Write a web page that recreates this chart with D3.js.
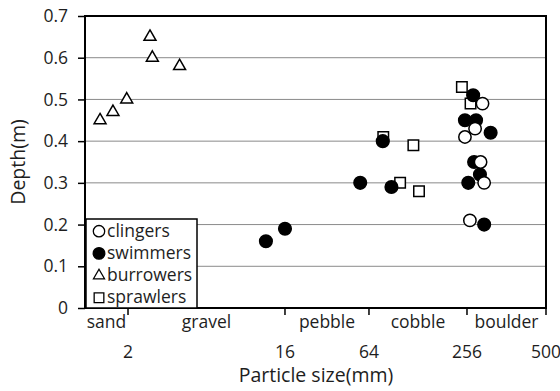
<!DOCTYPE html>
<html>
<head>
<meta charset="utf-8">
<script src="https://cdn.jsdelivr.net/npm/d3@7"></script>
<style>
  html, body { margin: 0; padding: 0; background: #fff; }
  svg { display: block; }
  text { font-family: "Open Sans", "Noto Sans", sans-serif; fill: #1e1e1e; }
</style>
</head>
<body>
<svg id="chart" width="560" height="391"></svg>
<script>
// ---- data ----
const sizeBoundaries = [0, 2, 16, 64, 256, 500];          // mm
const sizeTickLabels = ["2", "16", "64", "256", "500"];
const sizeClasses = ["sand", "gravel", "pebble", "cobble", "boulder"];
const depthTicks = [0, 0.1, 0.2, 0.3, 0.4, 0.5, 0.6, 0.7];

const seriesNames = ["clingers", "swimmers", "burrowers", "sprawlers"];

// particle size (mm), depth (m)
const clingersSize = [304, 281, 252, 298, 309, 265];
const clingersDepth = [0.49, 0.43, 0.41, 0.35, 0.30, 0.21];

const swimmersSize = [14.3, 16, 59, 108, 91, 275, 252, 284, 329, 278, 296, 260, 309];
const swimmersDepth = [0.16, 0.19, 0.30, 0.29, 0.40, 0.51, 0.45, 0.45, 0.42, 0.35, 0.32, 0.30, 0.20];

const burrowersSize = [0.7, 1.3, 1.94, 3.96, 4.17, 6.6];
const burrowersDepth = [0.45, 0.47, 0.50, 0.65, 0.60, 0.58];

const sprawlersSize = [246, 267, 92, 151, 125, 162];
const sprawlersDepth = [0.53, 0.49, 0.41, 0.39, 0.30, 0.28];

// ---- layout ----
const svg = d3.select("#chart");
const margin = {left: 85, top: 16, right: 14, bottom: 83};
const W = 560 - margin.left - margin.right;
const H = 391 - margin.top - margin.bottom;
const g = svg.append("g").attr("transform", `translate(${margin.left},${margin.top})`);
const labelSize = "17.5px";
const titleSize = "19.5px";

// the original axis is hand-spaced per size class
const x = d3.scaleLinear()
  .domain(sizeBoundaries)
  .range([0, 0.0933, 0.4338, 0.616, 0.8286, 1].map(f => f * W));
const y = d3.scaleLinear().domain([0, 0.7]).range([H, 0]);

// gridlines
g.append("g").selectAll("line").data(depthTicks.slice(1, -1)).join("line")
  .attr("x1", 0).attr("x2", W)
  .attr("y1", d => y(d)).attr("y2", d => y(d))
  .attr("stroke", "#8a8a8a").attr("stroke-width", 1);

// y axis
const yAxis = d3.axisLeft(y).tickValues(depthTicks).tickSize(7).tickPadding(10)
  .tickFormat(d => d === 0 ? "0" : d3.format(".1f")(d));
const ya = g.append("g").call(yAxis);
ya.select(".domain").remove();
ya.selectAll(".tick line").attr("stroke", "#000").attr("stroke-width", 1.5);
ya.selectAll(".tick text").style("font-size", labelSize).attr("fill", "#1e1e1e")
  .style("font-family", "'Open Sans', sans-serif");

// x axis ticks (boundaries)
const xa = g.append("g").attr("transform", `translate(0,${H})`);
xa.selectAll("line").data(sizeBoundaries.slice(1)).join("line")
  .attr("x1", d => x(d)).attr("x2", d => x(d))
  .attr("y1", 0).attr("y2", 7)
  .attr("stroke", "#000").attr("stroke-width", 1.5);
// class labels between boundaries
xa.selectAll("text.cls").data(sizeClasses).join("text").attr("class", "cls")
  .attr("x", (d, i) => (x(sizeBoundaries[i]) + x(sizeBoundaries[i + 1])) / 2)
  .attr("y", 20).attr("text-anchor", "middle").style("font-size", labelSize).text(d => d);
// numeric labels at boundaries
xa.selectAll("text.num").data(sizeTickLabels).join("text").attr("class", "num")
  .attr("x", (d, i) => x(sizeBoundaries[i + 1]))
  .attr("y", 50).attr("text-anchor", "middle").style("font-size", labelSize).text(d => d);

// plot border / axes lines
g.append("rect").attr("x", 0).attr("y", 0).attr("width", W).attr("height", H)
  .attr("fill", "none").attr("stroke", "#000").attr("stroke-width", 2);

// axis titles
svg.append("text").attr("x", 316).attr("y", 382).attr("text-anchor", "middle")
  .style("font-size", titleSize).text("Particle size(mm)");
svg.append("text").attr("transform", `translate(25,${margin.top + H / 2}) rotate(-90)`)
  .attr("text-anchor", "middle").style("font-size", titleSize).text("Depth(m)");

// ---- markers ----
const styles = {
  clingers:  {type: d3.symbolCircle, fill: "#fff", size: 120},
  swimmers:  {type: d3.symbolCircle, fill: "#000", size: 125},
  burrowers: {type: d3.symbolTriangle, fill: "#fff", size: 62},
  sprawlers: {type: d3.symbolSquare, fill: "#fff", size: 110}
};
const seriesData = {
  clingers: d3.zip(clingersSize, clingersDepth),
  swimmers: d3.zip(swimmersSize, swimmersDepth),
  burrowers: d3.zip(burrowersSize, burrowersDepth),
  sprawlers: d3.zip(sprawlersSize, sprawlersDepth)
};
const drawOrder = ["sprawlers", "swimmers", "clingers", "burrowers"];
drawOrder.forEach(name => {
  const s = styles[name];
  g.append("g").selectAll("path").data(seriesData[name]).join("path")
    .attr("d", d3.symbol().type(s.type).size(s.size))
    .attr("transform", d => `translate(${x(d[0])},${y(d[1])})`)
    .attr("fill", s.fill).attr("stroke", "#000").attr("stroke-width", 1.5);
});

// ---- legend ----
const lg = svg.append("g").attr("transform", "translate(86,219)");
lg.append("rect").attr("width", 111).attr("height", 89)
  .attr("fill", "#fff").attr("stroke", "#000").attr("stroke-width", 1.5);
seriesNames.forEach((name, i) => {
  const s = styles[name];
  const base = 17.7 + i * 22.2;
  lg.append("path").attr("d", d3.symbol().type(s.type).size(s.size * 0.85))
    .attr("transform", `translate(13,${base - 5.5})`)
    .attr("fill", s.fill).attr("stroke", "#000").attr("stroke-width", 1.3);
  lg.append("text").attr("x", 21).attr("y", base).style("font-size", labelSize).text(name);
});
</script>
</body>
</html>
